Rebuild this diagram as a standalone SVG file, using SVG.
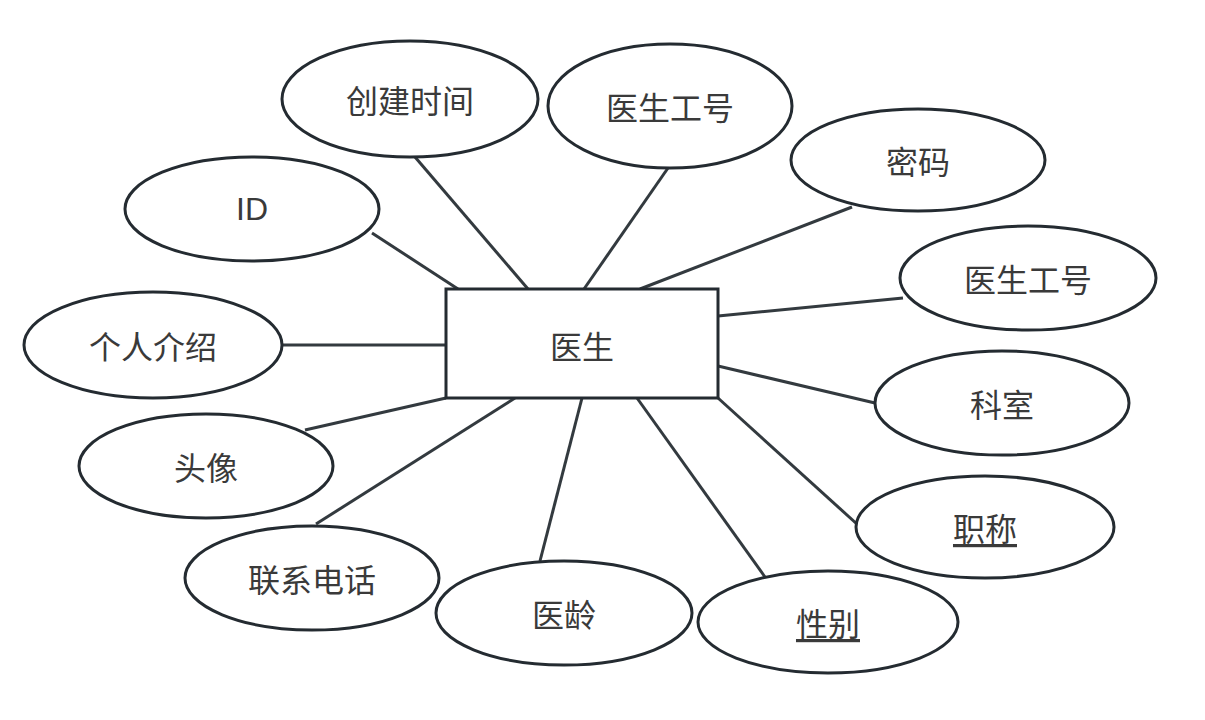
<svg xmlns="http://www.w3.org/2000/svg" width="1205" height="720" viewBox="0 0 1205 720">
<style>
.n{fill:#fff;stroke:#242b31;stroke-width:3}
.c line{stroke:#333a3f;stroke-width:3}
text{font-family:"Noto Sans CJK SC","Liberation Sans",sans-serif;font-size:32px;fill:#3a3a3a;text-anchor:middle;dominant-baseline:central}
.u{text-decoration:underline}
</style>
<rect width="1205" height="720" fill="#fff"/>
<g class="c" id="connectors">
<line x1="415" y1="157" x2="528" y2="289"/>
<line x1="668" y1="168" x2="584" y2="289"/>
<line x1="852" y1="207" x2="640" y2="289"/>
<line x1="372" y1="233" x2="458" y2="289"/>
<line x1="903" y1="298" x2="718" y2="316"/>
<line x1="282" y1="345" x2="446" y2="345"/>
<line x1="875" y1="403" x2="718" y2="366"/>
<line x1="305" y1="430" x2="446" y2="398"/>
<line x1="858" y1="525" x2="718" y2="398"/>
<line x1="316" y1="524" x2="515" y2="398"/>
<line x1="540" y1="561" x2="582" y2="398"/>
<line x1="765" y1="577" x2="637" y2="398"/>
</g>
<g id="doctor"><rect class="n" x="446" y="289" width="272" height="109"/><text x="582" y="345">医生</text></g>
<g id="a1"><ellipse class="n" cx="410" cy="99" rx="128" ry="58"/><text x="410" y="99">创建时间</text></g>
<g id="a2"><ellipse class="n" cx="670" cy="106" rx="122" ry="62"/><text x="670" y="106">医生工号</text></g>
<g id="a3"><ellipse class="n" cx="918" cy="160" rx="127" ry="51"/><text x="918" y="160">密码</text></g>
<g id="a4"><ellipse class="n" cx="252" cy="209" rx="127" ry="52"/><text x="252" y="209" style="font-family:'Liberation Sans','Noto Sans CJK SC',sans-serif">ID</text></g>
<g id="a5"><ellipse class="n" cx="1028" cy="278" rx="128" ry="52"/><text x="1028" y="278">医生工号</text></g>
<g id="a6"><ellipse class="n" cx="153" cy="345" rx="129" ry="53"/><text x="153" y="345">个人介绍</text></g>
<g id="a7"><ellipse class="n" cx="1002" cy="403" rx="127" ry="52"/><text x="1002" y="403">科室</text></g>
<g id="a8"><ellipse class="n" cx="206" cy="466" rx="127" ry="52"/><text x="206" y="466">头像</text></g>
<g id="a9"><ellipse class="n" cx="985" cy="527" rx="129" ry="51"/><text class="u" x="985" y="527">职称</text></g>
<g id="a10"><ellipse class="n" cx="312" cy="578" rx="127" ry="52"/><text x="312" y="578">联系电话</text></g>
<g id="a11"><ellipse class="n" cx="564" cy="613" rx="128" ry="52"/><text x="564" y="613">医龄</text></g>
<g id="a12"><ellipse class="n" cx="828" cy="622" rx="130" ry="51"/><text class="u" x="828" y="622">性别</text></g>
</svg>
